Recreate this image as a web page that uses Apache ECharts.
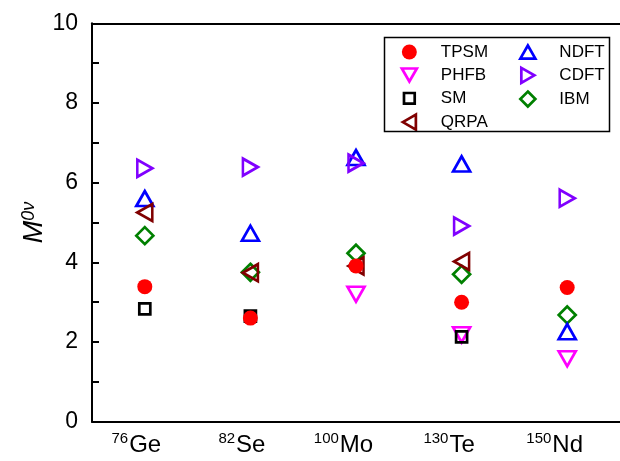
<!DOCTYPE html>
<html>
<head>
<meta charset="utf-8">
<script src="https://cdn.jsdelivr.net/npm/echarts@6/dist/echarts.min.js"></script>
<style>html,body{margin:0;padding:0;background:#fff}#c{width:620px;height:461px}</style>
</head>
<body>
<div id="c"></div>
<script>
const nuclei = ['Ge', 'Se', 'Mo', 'Te', 'Nd'];
const massNumbers = ['76', '82', '100', '130', '150'];
const yTicks = [0, 2, 4, 6, 8, 10];

const TPSM = [3.39, 2.60, 3.91, 3.00, 3.37];
const PHFB = ['-', '-', 3.20, 2.18, 1.58];
const SM   = [2.83, 2.65, '-', 2.13, '-'];
const QRPA = [5.25, 3.74, 3.91, 4.02, '-'];
const NDFT = [5.60, 4.73, 6.63, 6.47, 2.26];
const CDFT = [6.36, 6.39, 6.49, 4.91, 5.61];
const IBM  = [4.67, 3.75, 4.23, 3.70, 2.68];

const FONT = 'Liberation Sans';
const chart = echarts.init(document.getElementById('c'), null, {renderer: 'canvas'});

const SYM = {
  up: 'path://M5,0 L10,8.7 L0,8.7 Z',
  down: 'path://M0,0 L10,0 L5,8.7 Z',
  left: 'path://M0,5 L8.7,0 L8.7,10 Z',
  right: 'path://M0,0 L8.7,5 L0,10 Z',
  diamond: 'path://M5,0 L10,5 L5,10 L0,5 Z',
  square: 'path://M0,0 L10,0 L10,10 L0,10 Z'
};
const LEG = {
  up: 'path://M5,0 L10,8.7 L0,8.7 Z',
  down: 'path://M0,0 L10,0 L5,8.7 Z',
  left: 'path://M0,5 L8.7,0 L8.7,10 Z',
  right: 'path://M0,0 L8.7,5 L0,10 Z',
  diamond: 'path://M5,0 L10,5 L5,10 L0,5 Z',
  square: 'path://M-2,-2 M12,12 M0,0 L10,0 L10,10 L0,10 Z'
};

function hollow(color) {
  return {color: 'rgba(255,255,255,0)', borderColor: color, borderWidth: 2.7, opacity: 1};
}

const seriesDefs = [
  {name: 'IBM', data: IBM, symbol: SYM.diamond, symbolSize: [17, 17], itemStyle: hollow('#008000')},
  {name: 'NDFT', data: NDFT, symbol: SYM.up, symbolSize: [17, 15], itemStyle: hollow('#0000ff')},
  {name: 'CDFT', data: CDFT, symbol: SYM.right, symbolSize: [15, 17], itemStyle: hollow('#8000ff')},
  {name: 'QRPA', data: QRPA, symbol: SYM.left, symbolSize: [15, 17], itemStyle: hollow('#800000')},
  {name: 'PHFB', data: PHFB, symbol: SYM.down, symbolSize: [17, 15], itemStyle: hollow('#ff00ff')},
  {name: 'SM', data: SM, symbol: SYM.square, symbolSize: [11, 11], itemStyle: hollow('#000000')},
  {name: 'TPSM', data: TPSM, symbol: 'circle', symbolSize: 15, itemStyle: {color: '#ff0000', opacity: 1}}
];

const series = seriesDefs.map(d => ({
  name: d.name,
  type: 'scatter',
  data: d.data,
  symbol: d.symbol,
  symbolSize: d.symbolSize,
  itemStyle: d.itemStyle,
  emphasis: {disabled: true},
  xAxisIndex: 0,
  yAxisIndex: 0
}));

const labelRich = {
  s: {fontFamily: FONT, fontSize: 15, color: '#000', verticalAlign: 'top', lineHeight: 14, padding: [0, 1, 0, 0]},
  e: {fontFamily: FONT, fontSize: 24, color: '#000', lineHeight: 26, verticalAlign: 'bottom'},
  p2: {width: 17},
  p3: {width: 25}
};

const legendCommon = {
  orient: 'vertical',
  padding: 0,
  itemWidth: 15,
  itemHeight: 15,
  itemGap: 6,
  itemStyle: {borderWidth: 2.7},
  textStyle: {fontFamily: FONT, fontSize: 17, color: '#000', lineHeight: 15, padding: [0, 0, 0, 19]},
  selectedMode: false
};

const option = {
  backgroundColor: '#fff',
  animation: false,
  grid: {left: 92, top: 23.3, width: 530, bottom: 39.3, containLabel: false},
  xAxis: [{
    type: 'category',
    data: nuclei,
    boundaryGap: true,
    position: 'bottom',
    axisLine: {lineStyle: {color: '#000', width: 2}},
    axisTick: {alignWithLabel: true, inside: true, length: 10, lineStyle: {color: '#000', width: 2}},
    axisLabel: {
      interval: 0,
      margin: 10,
      formatter: function (v, i) {
        const m = massNumbers[i];
        return '{s|' + m + '}{e|' + v + '}{' + (m.length > 2 ? 'p3' : 'p2') + '|}';
      },
      rich: labelRich
    },
    splitLine: {show: false}
  }, {
    type: 'category',
    data: nuclei,
    boundaryGap: true,
    position: 'top',
    axisLine: {lineStyle: {color: '#000', width: 2}},
    axisTick: {alignWithLabel: true, inside: true, length: 10, lineStyle: {color: '#000', width: 2}},
    axisLabel: {show: false},
    splitLine: {show: false}
  }],
  yAxis: [{
    type: 'value',
    min: 0,
    max: 10,
    interval: 1,
    axisLine: {show: true, lineStyle: {color: '#000', width: 2}},
    axisTick: {show: true, inside: true, length: 7, lineStyle: {color: '#000', width: 2}},
    axisLabel: {
      margin: 14,
      fontFamily: FONT,
      fontSize: 23,
      color: '#000',
      formatter: function (v) { return yTicks.indexOf(v) >= 0 ? String(v) : ''; }
    },
    splitLine: {show: false},
    name: '{m|M}{s|0ν}',
    nameLocation: 'middle',
    nameRotate: 90,
    nameGap: 44,
    nameMoveOverlap: false,
    nameTextStyle: {
      rich: {
        m: {fontFamily: FONT, fontSize: 27, fontStyle: 'italic', color: '#000', lineHeight: 28, verticalAlign: 'bottom'},
        s: {fontFamily: FONT, fontSize: 18, fontStyle: 'italic', color: '#000', lineHeight: 15, verticalAlign: 'top'}
      }
    }
  }],
  legend: [
    Object.assign({}, legendCommon, {left: 400.5, top: 43.5, data: [
      {name: 'TPSM', icon: 'circle'},
      {name: 'PHFB', icon: LEG.down},
      {name: 'SM', icon: LEG.square},
      {name: 'QRPA', icon: LEG.left}
    ]}),
    Object.assign({}, legendCommon, {left: 519, top: 43.5, data: [
      {name: 'NDFT', icon: LEG.up},
      {name: 'CDFT', icon: LEG.right},
      {name: 'IBM', icon: LEG.diamond}
    ]})
  ],
  graphic: [{
    type: 'rect',
    shape: {x: 384.5, y: 37.5, width: 225, height: 94},
    style: {fill: 'none', stroke: '#000', lineWidth: 1.5},
    z: 100
  }],
  series: series
};

chart.setOption(option);
</script>
</body>
</html>
